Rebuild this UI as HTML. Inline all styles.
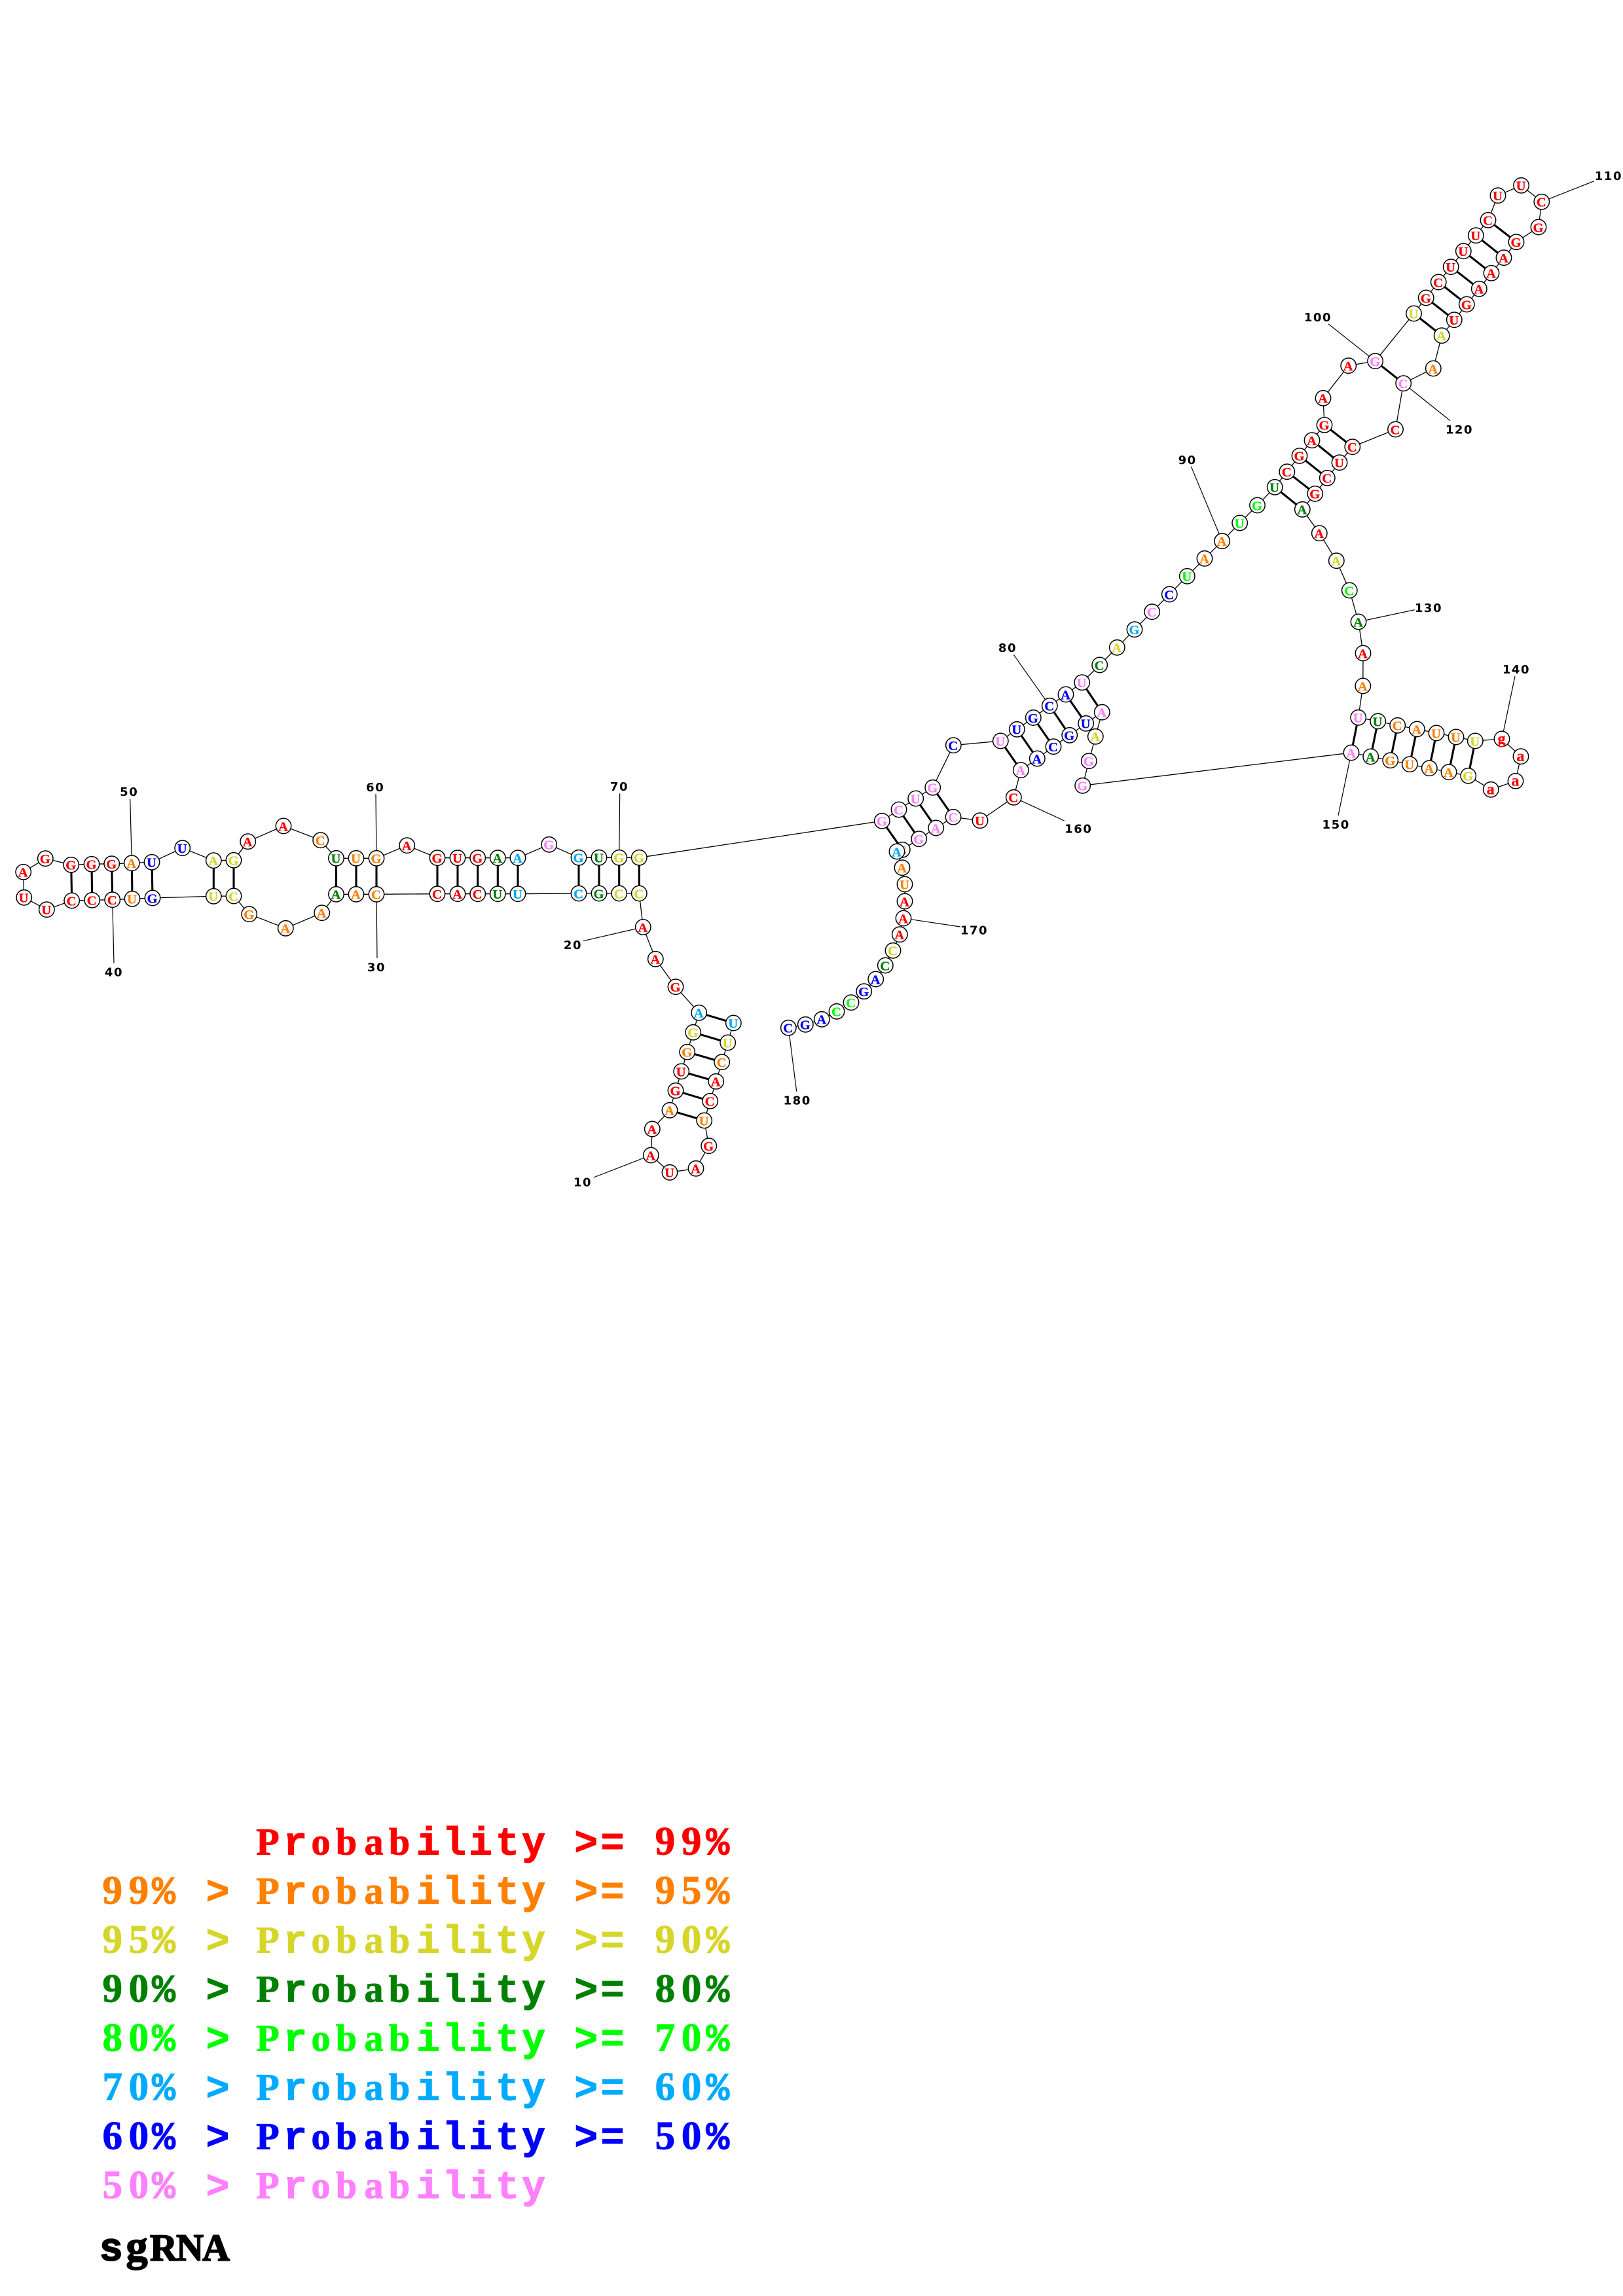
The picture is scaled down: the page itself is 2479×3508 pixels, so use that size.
<!DOCTYPE html>
<html><head><meta charset="utf-8"><title>sgRNA</title>
<style>
html,body{margin:0;padding:0;background:#fff}
svg{display:block}
.bb{fill:none;stroke:#000;stroke-width:1.3}
.bp{stroke:#000;stroke-width:3.1}
.ll{stroke:#000;stroke-width:1.2}
circle{fill:#fff;stroke:#000;stroke-width:1.5}
text{font-family:"Liberation Serif",serif;font-weight:bold}
.n text{font-size:20.5px;text-anchor:middle;stroke-width:.35;transform:translate(-.5px,7.3px)}
.n text.lc{font-size:24px}
.num{font-family:"DejaVu Sans",sans-serif;font-size:18px;text-anchor:middle;letter-spacing:1.6px;fill:#000}
.leg text{font-size:58px;text-anchor:middle;white-space:pre;stroke-width:1}
.leg .m{font-family:"Liberation Mono",monospace;font-size:60px}
.leg .g{font-size:61px}
.r{fill:#ff0000;stroke:#ff0000}.o{fill:#ff8000;stroke:#ff8000}.y{fill:#d6d62a;stroke:#d6d62a}.d{fill:#008000;stroke:#008000}.l{fill:#00ff00;stroke:#00ff00}.a{fill:#00aaff;stroke:#00aaff}.b{fill:#0000ff;stroke:#0000ff}.p{fill:#ff80ff;stroke:#ff80ff}
.k{fill:#000;stroke:#000}
</style></head><body>
<svg xmlns="http://www.w3.org/2000/svg" width="2479" height="3508" viewBox="0 0 2479 3508">
<rect width="2479" height="3508" fill="#fff"/>
<polyline class="bb" points="1120.3,1563 1111.7,1593 1102.7,1622.7 1093.7,1652.3 1084.7,1682.3 1075.7,1712 1082.7,1750.7 1063,1785.3 1023,1791.3 994.3,1765 996.3,1725 1023,1696.3 1032,1666.3 1040.7,1637 1049.7,1607.3 1058.7,1577.3 1067.7,1547.3 1032,1507.7 1001.3,1465.3 982.3,1416.5 976.3,1365 945.7,1365 915,1365 884,1365 791,1365.7 760.3,1365.7 729.7,1365.7 699,1365.7 668,1365.7 575,1366.3 544,1366.3 513.5,1366.3 491.7,1394.7 436.3,1418.3 380.7,1396.7 357,1369 326.3,1369.3 233,1372 202,1373.3 171.7,1374.7 140.7,1375.3 109.7,1376 71.3,1389.7 36.7,1371.3 35.7,1332.3 69.3,1311.7 108.7,1321.3 140,1320.3 170.7,1319.7 201.3,1318.7 232,1317.3 278.7,1295.7 326.3,1314.7 357,1314.3 378.7,1285.7 433,1262 489.7,1283.7 513.5,1311.3 544,1311.3 575,1311.3 621.7,1291.7 668,1310.7 699,1310.7 729.7,1310.7 760.3,1310.7 791,1310.7 838.7,1290.3 884,1310.3 915,1310.3 945.7,1310.3 976.3,1310.3 1347.3,1254.3 1373,1237 1398.7,1220 1424.7,1203.3 1456.3,1138.7 1528.3,1132 1553.3,1114.3 1578.3,1096.5 1603.3,1078.3 1628,1061 1652.7,1042.7 1679.7,1016 1706.3,989.3 1733,961.7 1759.7,934.7 1786.3,908 1813.3,880.3 1840,853.3 1866.7,826.7 1893.7,799 1920.5,772 1947.2,744.3 1965.8,720.7 1985,696.4 2004,672.7 2023,649.3 2021,608.3 2059.7,558.7 2100.6,551.7 2159.5,479 2178.2,455 2197.2,431 2216.2,407.7 2235.3,383.7 2254.3,359.7 2273,336.3 2288,298.7 2323.6,283.3 2354.8,308.3 2350,347 2316,369.7 2297,393.7 2278,417.3 2259.3,441.3 2240.3,465 2221.3,488.7 2202.2,512.7 2189.3,563 2143.7,585.7 2131.5,656 2065.8,682.7 2046,706.7 2027.3,730.3 2008.7,754.3 1989.3,778.3 2015.3,814.7 2041.3,856.7 2061.3,902 2075,950 2082,998 2081.8,1048 2074.7,1096.3 2104.7,1102 2134.7,1108.3 2164.3,1114 2194,1120 2224,1126 2253.3,1132 2294,1129 2323,1155.7 2315,1193.3 2277.3,1206.3 2242.7,1185.3 2213,1179.7 2183.3,1173.7 2153.3,1167.7 2123.7,1161.7 2093.7,1156 2064,1150 1653.7,1200.3 1663.3,1162.7 1673.3,1125.3 1683.3,1088.2 1658.7,1105.3 1633.7,1123.3 1609,1140.7 1584.3,1159 1559.3,1176.7 1548.3,1218.3 1497,1253.7 1456,1248.3 1429.7,1265 1403.7,1281.7 1378.3,1298.3 1370,1301 1378,1325.7 1382,1351 1382,1377 1380,1403 1374.3,1427.7 1364,1452.3 1352.3,1475 1337.7,1496 1319.7,1514.7 1300,1531.7 1278,1545.3 1255.3,1557.3 1230.3,1565.3 1204.3,1570.3"/>
<g class="bp">
<line x1="1120.3" y1="1563" x2="1067.7" y2="1547.3"/><line x1="1111.7" y1="1593" x2="1058.7" y2="1577.3"/><line x1="1102.7" y1="1622.7" x2="1049.7" y2="1607.3"/><line x1="1093.7" y1="1652.3" x2="1040.7" y2="1637"/><line x1="1084.7" y1="1682.3" x2="1032" y2="1666.3"/><line x1="1075.7" y1="1712" x2="1023" y2="1696.3"/>
<line x1="976.3" y1="1365" x2="976.3" y2="1310.3"/><line x1="945.7" y1="1365" x2="945.7" y2="1310.3"/><line x1="915" y1="1365" x2="915" y2="1310.3"/><line x1="884" y1="1365" x2="884" y2="1310.3"/>
<line x1="791" y1="1365.7" x2="791" y2="1310.7"/><line x1="760.3" y1="1365.7" x2="760.3" y2="1310.7"/><line x1="729.7" y1="1365.7" x2="729.7" y2="1310.7"/><line x1="699" y1="1365.7" x2="699" y2="1310.7"/><line x1="668" y1="1365.7" x2="668" y2="1310.7"/>
<line x1="575" y1="1366.3" x2="575" y2="1311.3"/><line x1="544" y1="1366.3" x2="544" y2="1311.3"/><line x1="513.5" y1="1366.3" x2="513.5" y2="1311.3"/>
<line x1="357" y1="1369" x2="357" y2="1314.3"/><line x1="326.3" y1="1369.3" x2="326.3" y2="1314.7"/>
<line x1="233" y1="1372" x2="232" y2="1317.3"/><line x1="202" y1="1373.3" x2="201.3" y2="1318.7"/><line x1="171.7" y1="1374.7" x2="170.7" y2="1319.7"/><line x1="140.7" y1="1375.3" x2="140" y2="1320.3"/><line x1="109.7" y1="1376" x2="108.7" y2="1321.3"/>
<line x1="1347.3" y1="1254.3" x2="1378.3" y2="1298.3"/><line x1="1373" y1="1237" x2="1403.7" y2="1281.7"/><line x1="1398.7" y1="1220" x2="1429.7" y2="1265"/><line x1="1424.7" y1="1203.3" x2="1456" y2="1248.3"/>
<line x1="1528.3" y1="1132" x2="1559.3" y2="1176.7"/><line x1="1553.3" y1="1114.3" x2="1584.3" y2="1159"/><line x1="1578.3" y1="1096.5" x2="1609" y2="1140.7"/><line x1="1603.3" y1="1078.3" x2="1633.7" y2="1123.3"/><line x1="1628" y1="1061" x2="1658.7" y2="1105.3"/><line x1="1652.7" y1="1042.7" x2="1683.3" y2="1088.2"/>
<line x1="1947.2" y1="744.3" x2="1989.3" y2="778.3"/><line x1="1965.8" y1="720.7" x2="2008.7" y2="754.3"/><line x1="1985" y1="696.4" x2="2027.3" y2="730.3"/><line x1="2004" y1="672.7" x2="2046" y2="706.7"/><line x1="2023" y1="649.3" x2="2065.8" y2="682.7"/>
<line x1="2100.6" y1="551.7" x2="2143.7" y2="585.7"/>
<line x1="2159.5" y1="479" x2="2202.2" y2="512.7"/><line x1="2178.2" y1="455" x2="2221.3" y2="488.7"/><line x1="2197.2" y1="431" x2="2240.3" y2="465"/><line x1="2216.2" y1="407.7" x2="2259.3" y2="441.3"/><line x1="2235.3" y1="383.7" x2="2278" y2="417.3"/><line x1="2254.3" y1="359.7" x2="2297" y2="393.7"/><line x1="2273" y1="336.3" x2="2316" y2="369.7"/>
<line x1="2074.7" y1="1096.3" x2="2064" y2="1150"/><line x1="2104.7" y1="1102" x2="2093.7" y2="1156"/><line x1="2134.7" y1="1108.3" x2="2123.7" y2="1161.7"/><line x1="2164.3" y1="1114" x2="2153.3" y2="1167.7"/><line x1="2194" y1="1120" x2="2183.3" y2="1173.7"/><line x1="2224" y1="1126" x2="2213" y2="1179.7"/><line x1="2253.3" y1="1132" x2="2242.7" y2="1185.3"/>
</g>
<g class="ll">
<line x1="994.3" y1="1765" x2="906.7" y2="1799"/><line x1="982.3" y1="1416.5" x2="890.7" y2="1437.7"/><line x1="575" y1="1366.3" x2="576" y2="1464"/><line x1="171.7" y1="1374.7" x2="174" y2="1471.7"/><line x1="201.3" y1="1318.7" x2="198.7" y2="1220.7"/><line x1="575" y1="1311.3" x2="574" y2="1213.3"/><line x1="945.7" y1="1310.3" x2="946.7" y2="1212.3"/><line x1="1603.3" y1="1078.3" x2="1548.3" y2="1000.3"/><line x1="1866.7" y1="826.7" x2="1819.3" y2="712.7"/><line x1="2100.6" y1="551.7" x2="2029" y2="495"/><line x1="2354.8" y1="308.3" x2="2434.8" y2="276.7"/><line x1="2143.7" y1="585.7" x2="2215" y2="642.7"/><line x1="2075" y1="950" x2="2160.7" y2="931.7"/><line x1="2294" y1="1129" x2="2314" y2="1033.3"/><line x1="2064" y1="1150" x2="2044" y2="1246"/><line x1="1548.3" y1="1218.3" x2="1625.7" y2="1254"/><line x1="1380" y1="1403" x2="1466.7" y2="1416"/><line x1="1204.3" y1="1570.3" x2="1216.7" y2="1667.7"/>
</g>
<g class="n">
<circle cx="1120.3" cy="1563" r="11.7"/><text x="1120.3" y="1563" class="a">U</text>
<circle cx="1111.7" cy="1593" r="11.7"/><text x="1111.7" y="1593" class="y">U</text>
<circle cx="1102.7" cy="1622.7" r="11.7"/><text x="1102.7" y="1622.7" class="o">C</text>
<circle cx="1093.7" cy="1652.3" r="11.7"/><text x="1093.7" y="1652.3" class="r">A</text>
<circle cx="1084.7" cy="1682.3" r="11.7"/><text x="1084.7" y="1682.3" class="r">C</text>
<circle cx="1075.7" cy="1712" r="11.7"/><text x="1075.7" y="1712" class="o">U</text>
<circle cx="1082.7" cy="1750.7" r="11.7"/><text x="1082.7" y="1750.7" class="r">G</text>
<circle cx="1063" cy="1785.3" r="11.7"/><text x="1063" y="1785.3" class="r">A</text>
<circle cx="1023" cy="1791.3" r="11.7"/><text x="1023" y="1791.3" class="r">U</text>
<circle cx="994.3" cy="1765" r="11.7"/><text x="994.3" y="1765" class="r">A</text>
<circle cx="996.3" cy="1725" r="11.7"/><text x="996.3" y="1725" class="r">A</text>
<circle cx="1023" cy="1696.3" r="11.7"/><text x="1023" y="1696.3" class="o">A</text>
<circle cx="1032" cy="1666.3" r="11.7"/><text x="1032" y="1666.3" class="r">G</text>
<circle cx="1040.7" cy="1637" r="11.7"/><text x="1040.7" y="1637" class="r">U</text>
<circle cx="1049.7" cy="1607.3" r="11.7"/><text x="1049.7" y="1607.3" class="o">G</text>
<circle cx="1058.7" cy="1577.3" r="11.7"/><text x="1058.7" y="1577.3" class="y">G</text>
<circle cx="1067.7" cy="1547.3" r="11.7"/><text x="1067.7" y="1547.3" class="a">A</text>
<circle cx="1032" cy="1507.7" r="11.7"/><text x="1032" y="1507.7" class="r">G</text>
<circle cx="1001.3" cy="1465.3" r="11.7"/><text x="1001.3" y="1465.3" class="r">A</text>
<circle cx="982.3" cy="1416.5" r="11.7"/><text x="982.3" y="1416.5" class="r">A</text>
<circle cx="976.3" cy="1365" r="11.7"/><text x="976.3" y="1365" class="y">C</text>
<circle cx="945.7" cy="1365" r="11.7"/><text x="945.7" y="1365" class="y">C</text>
<circle cx="915" cy="1365" r="11.7"/><text x="915" y="1365" class="d">G</text>
<circle cx="884" cy="1365" r="11.7"/><text x="884" y="1365" class="a">C</text>
<circle cx="791" cy="1365.7" r="11.7"/><text x="791" y="1365.7" class="a">U</text>
<circle cx="760.3" cy="1365.7" r="11.7"/><text x="760.3" y="1365.7" class="d">U</text>
<circle cx="729.7" cy="1365.7" r="11.7"/><text x="729.7" y="1365.7" class="r">C</text>
<circle cx="699" cy="1365.7" r="11.7"/><text x="699" y="1365.7" class="r">A</text>
<circle cx="668" cy="1365.7" r="11.7"/><text x="668" y="1365.7" class="r">C</text>
<circle cx="575" cy="1366.3" r="11.7"/><text x="575" y="1366.3" class="o">C</text>
<circle cx="544" cy="1366.3" r="11.7"/><text x="544" y="1366.3" class="o">A</text>
<circle cx="513.5" cy="1366.3" r="11.7"/><text x="513.5" y="1366.3" class="d">A</text>
<circle cx="491.7" cy="1394.7" r="11.7"/><text x="491.7" y="1394.7" class="o">A</text>
<circle cx="436.3" cy="1418.3" r="11.7"/><text x="436.3" y="1418.3" class="o">A</text>
<circle cx="380.7" cy="1396.7" r="11.7"/><text x="380.7" y="1396.7" class="o">G</text>
<circle cx="357" cy="1369" r="11.7"/><text x="357" y="1369" class="y">C</text>
<circle cx="326.3" cy="1369.3" r="11.7"/><text x="326.3" y="1369.3" class="y">U</text>
<circle cx="233" cy="1372" r="11.7"/><text x="233" y="1372" class="b">G</text>
<circle cx="202" cy="1373.3" r="11.7"/><text x="202" y="1373.3" class="o">U</text>
<circle cx="171.7" cy="1374.7" r="11.7"/><text x="171.7" y="1374.7" class="r">C</text>
<circle cx="140.7" cy="1375.3" r="11.7"/><text x="140.7" y="1375.3" class="r">C</text>
<circle cx="109.7" cy="1376" r="11.7"/><text x="109.7" y="1376" class="r">C</text>
<circle cx="71.3" cy="1389.7" r="11.7"/><text x="71.3" y="1389.7" class="r">U</text>
<circle cx="36.7" cy="1371.3" r="11.7"/><text x="36.7" y="1371.3" class="r">U</text>
<circle cx="35.7" cy="1332.3" r="11.7"/><text x="35.7" y="1332.3" class="r">A</text>
<circle cx="69.3" cy="1311.7" r="11.7"/><text x="69.3" y="1311.7" class="r">G</text>
<circle cx="108.7" cy="1321.3" r="11.7"/><text x="108.7" y="1321.3" class="r">G</text>
<circle cx="140" cy="1320.3" r="11.7"/><text x="140" y="1320.3" class="r">G</text>
<circle cx="170.7" cy="1319.7" r="11.7"/><text x="170.7" y="1319.7" class="r">G</text>
<circle cx="201.3" cy="1318.7" r="11.7"/><text x="201.3" y="1318.7" class="o">A</text>
<circle cx="232" cy="1317.3" r="11.7"/><text x="232" y="1317.3" class="b">U</text>
<circle cx="278.7" cy="1295.7" r="11.7"/><text x="278.7" y="1295.7" class="b">U</text>
<circle cx="326.3" cy="1314.7" r="11.7"/><text x="326.3" y="1314.7" class="y">A</text>
<circle cx="357" cy="1314.3" r="11.7"/><text x="357" y="1314.3" class="y">G</text>
<circle cx="378.7" cy="1285.7" r="11.7"/><text x="378.7" y="1285.7" class="r">A</text>
<circle cx="433" cy="1262" r="11.7"/><text x="433" y="1262" class="r">A</text>
<circle cx="489.7" cy="1283.7" r="11.7"/><text x="489.7" y="1283.7" class="o">C</text>
<circle cx="513.5" cy="1311.3" r="11.7"/><text x="513.5" y="1311.3" class="d">U</text>
<circle cx="544" cy="1311.3" r="11.7"/><text x="544" y="1311.3" class="o">U</text>
<circle cx="575" cy="1311.3" r="11.7"/><text x="575" y="1311.3" class="o">G</text>
<circle cx="621.7" cy="1291.7" r="11.7"/><text x="621.7" y="1291.7" class="r">A</text>
<circle cx="668" cy="1310.7" r="11.7"/><text x="668" y="1310.7" class="r">G</text>
<circle cx="699" cy="1310.7" r="11.7"/><text x="699" y="1310.7" class="r">U</text>
<circle cx="729.7" cy="1310.7" r="11.7"/><text x="729.7" y="1310.7" class="r">G</text>
<circle cx="760.3" cy="1310.7" r="11.7"/><text x="760.3" y="1310.7" class="d">A</text>
<circle cx="791" cy="1310.7" r="11.7"/><text x="791" y="1310.7" class="a">A</text>
<circle cx="838.7" cy="1290.3" r="11.7"/><text x="838.7" y="1290.3" class="p">G</text>
<circle cx="884" cy="1310.3" r="11.7"/><text x="884" y="1310.3" class="a">G</text>
<circle cx="915" cy="1310.3" r="11.7"/><text x="915" y="1310.3" class="d">U</text>
<circle cx="945.7" cy="1310.3" r="11.7"/><text x="945.7" y="1310.3" class="y">G</text>
<circle cx="976.3" cy="1310.3" r="11.7"/><text x="976.3" y="1310.3" class="y">G</text>
<circle cx="1347.3" cy="1254.3" r="11.7"/><text x="1347.3" y="1254.3" class="p">G</text>
<circle cx="1373" cy="1237" r="11.7"/><text x="1373" y="1237" class="p">C</text>
<circle cx="1398.7" cy="1220" r="11.7"/><text x="1398.7" y="1220" class="p">U</text>
<circle cx="1424.7" cy="1203.3" r="11.7"/><text x="1424.7" y="1203.3" class="p">G</text>
<circle cx="1456.3" cy="1138.7" r="11.7"/><text x="1456.3" y="1138.7" class="b">C</text>
<circle cx="1528.3" cy="1132" r="11.7"/><text x="1528.3" y="1132" class="p">U</text>
<circle cx="1553.3" cy="1114.3" r="11.7"/><text x="1553.3" y="1114.3" class="b">U</text>
<circle cx="1578.3" cy="1096.5" r="11.7"/><text x="1578.3" y="1096.5" class="b">G</text>
<circle cx="1603.3" cy="1078.3" r="11.7"/><text x="1603.3" y="1078.3" class="b">C</text>
<circle cx="1628" cy="1061" r="11.7"/><text x="1628" y="1061" class="b">A</text>
<circle cx="1652.7" cy="1042.7" r="11.7"/><text x="1652.7" y="1042.7" class="p">U</text>
<circle cx="1679.7" cy="1016" r="11.7"/><text x="1679.7" y="1016" class="d">C</text>
<circle cx="1706.3" cy="989.3" r="11.7"/><text x="1706.3" y="989.3" class="y">A</text>
<circle cx="1733" cy="961.7" r="11.7"/><text x="1733" y="961.7" class="a">G</text>
<circle cx="1759.7" cy="934.7" r="11.7"/><text x="1759.7" y="934.7" class="p">C</text>
<circle cx="1786.3" cy="908" r="11.7"/><text x="1786.3" y="908" class="b">C</text>
<circle cx="1813.3" cy="880.3" r="11.7"/><text x="1813.3" y="880.3" class="l">U</text>
<circle cx="1840" cy="853.3" r="11.7"/><text x="1840" y="853.3" class="o">A</text>
<circle cx="1866.7" cy="826.7" r="11.7"/><text x="1866.7" y="826.7" class="o">A</text>
<circle cx="1893.7" cy="799" r="11.7"/><text x="1893.7" y="799" class="l">U</text>
<circle cx="1920.5" cy="772" r="11.7"/><text x="1920.5" y="772" class="l">G</text>
<circle cx="1947.2" cy="744.3" r="11.7"/><text x="1947.2" y="744.3" class="d">U</text>
<circle cx="1965.8" cy="720.7" r="11.7"/><text x="1965.8" y="720.7" class="r">C</text>
<circle cx="1985" cy="696.4" r="11.7"/><text x="1985" y="696.4" class="r">G</text>
<circle cx="2004" cy="672.7" r="11.7"/><text x="2004" y="672.7" class="r">A</text>
<circle cx="2023" cy="649.3" r="11.7"/><text x="2023" y="649.3" class="r">G</text>
<circle cx="2021" cy="608.3" r="11.7"/><text x="2021" y="608.3" class="r">A</text>
<circle cx="2059.7" cy="558.7" r="11.7"/><text x="2059.7" y="558.7" class="r">A</text>
<circle cx="2100.6" cy="551.7" r="11.7"/><text x="2100.6" y="551.7" class="p">G</text>
<circle cx="2159.5" cy="479" r="11.7"/><text x="2159.5" y="479" class="y">U</text>
<circle cx="2178.2" cy="455" r="11.7"/><text x="2178.2" y="455" class="r">G</text>
<circle cx="2197.2" cy="431" r="11.7"/><text x="2197.2" y="431" class="r">C</text>
<circle cx="2216.2" cy="407.7" r="11.7"/><text x="2216.2" y="407.7" class="r">U</text>
<circle cx="2235.3" cy="383.7" r="11.7"/><text x="2235.3" y="383.7" class="r">U</text>
<circle cx="2254.3" cy="359.7" r="11.7"/><text x="2254.3" y="359.7" class="r">U</text>
<circle cx="2273" cy="336.3" r="11.7"/><text x="2273" y="336.3" class="r">C</text>
<circle cx="2288" cy="298.7" r="11.7"/><text x="2288" y="298.7" class="r">U</text>
<circle cx="2323.6" cy="283.3" r="11.7"/><text x="2323.6" y="283.3" class="r">U</text>
<circle cx="2354.8" cy="308.3" r="11.7"/><text x="2354.8" y="308.3" class="r">C</text>
<circle cx="2350" cy="347" r="11.7"/><text x="2350" y="347" class="r">G</text>
<circle cx="2316" cy="369.7" r="11.7"/><text x="2316" y="369.7" class="r">G</text>
<circle cx="2297" cy="393.7" r="11.7"/><text x="2297" y="393.7" class="r">A</text>
<circle cx="2278" cy="417.3" r="11.7"/><text x="2278" y="417.3" class="r">A</text>
<circle cx="2259.3" cy="441.3" r="11.7"/><text x="2259.3" y="441.3" class="r">A</text>
<circle cx="2240.3" cy="465" r="11.7"/><text x="2240.3" y="465" class="r">G</text>
<circle cx="2221.3" cy="488.7" r="11.7"/><text x="2221.3" y="488.7" class="r">U</text>
<circle cx="2202.2" cy="512.7" r="11.7"/><text x="2202.2" y="512.7" class="y">A</text>
<circle cx="2189.3" cy="563" r="11.7"/><text x="2189.3" y="563" class="o">A</text>
<circle cx="2143.7" cy="585.7" r="11.7"/><text x="2143.7" y="585.7" class="p">C</text>
<circle cx="2131.5" cy="656" r="11.7"/><text x="2131.5" y="656" class="r">C</text>
<circle cx="2065.8" cy="682.7" r="11.7"/><text x="2065.8" y="682.7" class="r">C</text>
<circle cx="2046" cy="706.7" r="11.7"/><text x="2046" y="706.7" class="r">U</text>
<circle cx="2027.3" cy="730.3" r="11.7"/><text x="2027.3" y="730.3" class="r">C</text>
<circle cx="2008.7" cy="754.3" r="11.7"/><text x="2008.7" y="754.3" class="r">G</text>
<circle cx="1989.3" cy="778.3" r="11.7"/><text x="1989.3" y="778.3" class="d">A</text>
<circle cx="2015.3" cy="814.7" r="11.7"/><text x="2015.3" y="814.7" class="r">A</text>
<circle cx="2041.3" cy="856.7" r="11.7"/><text x="2041.3" y="856.7" class="y">A</text>
<circle cx="2061.3" cy="902" r="11.7"/><text x="2061.3" y="902" class="l">C</text>
<circle cx="2075" cy="950" r="11.7"/><text x="2075" y="950" class="d">A</text>
<circle cx="2082" cy="998" r="11.7"/><text x="2082" y="998" class="r">A</text>
<circle cx="2081.8" cy="1048" r="11.7"/><text x="2081.8" y="1048" class="o">A</text>
<circle cx="2074.7" cy="1096.3" r="11.7"/><text x="2074.7" y="1096.3" class="p">U</text>
<circle cx="2104.7" cy="1102" r="11.7"/><text x="2104.7" y="1102" class="d">U</text>
<circle cx="2134.7" cy="1108.3" r="11.7"/><text x="2134.7" y="1108.3" class="o">C</text>
<circle cx="2164.3" cy="1114" r="11.7"/><text x="2164.3" y="1114" class="o">A</text>
<circle cx="2194" cy="1120" r="11.7"/><text x="2194" y="1120" class="o">U</text>
<circle cx="2224" cy="1126" r="11.7"/><text x="2224" y="1126" class="o">U</text>
<circle cx="2253.3" cy="1132" r="11.7"/><text x="2253.3" y="1132" class="y">U</text>
<circle cx="2294" cy="1129" r="11.7"/><text x="2294" y="1129" class="r lc">g</text>
<circle cx="2323" cy="1155.7" r="11.7"/><text x="2323" y="1155.7" class="r lc">a</text>
<circle cx="2315" cy="1193.3" r="11.7"/><text x="2315" y="1193.3" class="r lc">a</text>
<circle cx="2277.3" cy="1206.3" r="11.7"/><text x="2277.3" y="1206.3" class="r lc">a</text>
<circle cx="2242.7" cy="1185.3" r="11.7"/><text x="2242.7" y="1185.3" class="y">G</text>
<circle cx="2213" cy="1179.7" r="11.7"/><text x="2213" y="1179.7" class="o">A</text>
<circle cx="2183.3" cy="1173.7" r="11.7"/><text x="2183.3" y="1173.7" class="o">A</text>
<circle cx="2153.3" cy="1167.7" r="11.7"/><text x="2153.3" y="1167.7" class="o">U</text>
<circle cx="2123.7" cy="1161.7" r="11.7"/><text x="2123.7" y="1161.7" class="o">G</text>
<circle cx="2093.7" cy="1156" r="11.7"/><text x="2093.7" y="1156" class="d">A</text>
<circle cx="2064" cy="1150" r="11.7"/><text x="2064" y="1150" class="p">A</text>
<circle cx="1653.7" cy="1200.3" r="11.7"/><text x="1653.7" y="1200.3" class="p">G</text>
<circle cx="1663.3" cy="1162.7" r="11.7"/><text x="1663.3" y="1162.7" class="p">G</text>
<circle cx="1683.3" cy="1088.2" r="11.7"/><text x="1683.3" y="1088.2" class="p">A</text>
<circle cx="1673.3" cy="1125.3" r="11.7"/><text x="1673.3" y="1125.3" class="y">A</text>
<circle cx="1658.7" cy="1105.3" r="11.7"/><text x="1658.7" y="1105.3" class="b">U</text>
<circle cx="1633.7" cy="1123.3" r="11.7"/><text x="1633.7" y="1123.3" class="b">G</text>
<circle cx="1609" cy="1140.7" r="11.7"/><text x="1609" y="1140.7" class="b">C</text>
<circle cx="1584.3" cy="1159" r="11.7"/><text x="1584.3" y="1159" class="b">A</text>
<circle cx="1559.3" cy="1176.7" r="11.7"/><text x="1559.3" y="1176.7" class="p">A</text>
<circle cx="1548.3" cy="1218.3" r="11.7"/><text x="1548.3" y="1218.3" class="r">C</text>
<circle cx="1497" cy="1253.7" r="11.7"/><text x="1497" y="1253.7" class="r">U</text>
<circle cx="1456" cy="1248.3" r="11.7"/><text x="1456" y="1248.3" class="p">C</text>
<circle cx="1429.7" cy="1265" r="11.7"/><text x="1429.7" y="1265" class="p">A</text>
<circle cx="1403.7" cy="1281.7" r="11.7"/><text x="1403.7" y="1281.7" class="p">G</text>
<circle cx="1378.3" cy="1298.3" r="11.7"/><text x="1378.3" y="1298.3" class="p">C</text>
<circle cx="1370" cy="1301" r="11.7"/><text x="1370" y="1301" class="a">A</text>
<circle cx="1378" cy="1325.7" r="11.7"/><text x="1378" y="1325.7" class="o">A</text>
<circle cx="1382" cy="1351" r="11.7"/><text x="1382" y="1351" class="o">U</text>
<circle cx="1382" cy="1377" r="11.7"/><text x="1382" y="1377" class="r">A</text>
<circle cx="1380" cy="1403" r="11.7"/><text x="1380" y="1403" class="r">A</text>
<circle cx="1374.3" cy="1427.7" r="11.7"/><text x="1374.3" y="1427.7" class="r">A</text>
<circle cx="1364" cy="1452.3" r="11.7"/><text x="1364" y="1452.3" class="y">C</text>
<circle cx="1352.3" cy="1475" r="11.7"/><text x="1352.3" y="1475" class="d">C</text>
<circle cx="1337.7" cy="1496" r="11.7"/><text x="1337.7" y="1496" class="b">A</text>
<circle cx="1319.7" cy="1514.7" r="11.7"/><text x="1319.7" y="1514.7" class="b">G</text>
<circle cx="1300" cy="1531.7" r="11.7"/><text x="1300" y="1531.7" class="l">C</text>
<circle cx="1278" cy="1545.3" r="11.7"/><text x="1278" y="1545.3" class="l">C</text>
<circle cx="1255.3" cy="1557.3" r="11.7"/><text x="1255.3" y="1557.3" class="b">A</text>
<circle cx="1230.3" cy="1565.3" r="11.7"/><text x="1230.3" y="1565.3" class="b">G</text>
<circle cx="1204.3" cy="1570.3" r="11.7"/><text x="1204.3" y="1570.3" class="b">C</text>
</g>
<g>
<text class="num" x="890" y="1812.7">10</text>
<text class="num" x="875" y="1450">20</text>
<text class="num" x="575" y="1484">30</text>
<text class="num" x="174" y="1491.7">40</text>
<text class="num" x="197.3" y="1216">50</text>
<text class="num" x="573.3" y="1209">60</text>
<text class="num" x="946" y="1208">70</text>
<text class="num" x="1539" y="996">80</text>
<text class="num" x="1813.7" y="709">90</text>
<text class="num" x="2013" y="491">100</text>
<text class="num" x="2457" y="275">110</text>
<text class="num" x="2229" y="662.7">120</text>
<text class="num" x="2182" y="935">130</text>
<text class="num" x="2316" y="1029">140</text>
<text class="num" x="2040.7" y="1266">150</text>
<text class="num" x="1647.3" y="1272.7">160</text>
<text class="num" x="1488" y="1427.7">170</text>
<text class="num" x="1217.7" y="1687.7">180</text>
</g>
<g class="leg">
<text y="2833.3" class="r"><tspan x="409">P</tspan><tspan class="m" x="451">r</tspan><tspan x="490 529 571 610">obab</tspan><tspan class="m" x="654 694 734 775 815 855">ility </tspan><tspan class="m" x="895.3 935.5 975.7">&gt;= </tspan><tspan class="g" x="1015.9 1056.1">99</tspan><tspan class="m" x="1096.3">%</tspan></text>
<text y="2908.3" class="o"><tspan class="g" x="171.7 211.9">99</tspan><tspan class="m" x="250 292.3 332.5 372.7">% &gt; </tspan><tspan x="409">P</tspan><tspan class="m" x="451">r</tspan><tspan x="490 529 571 610">obab</tspan><tspan class="m" x="654 694 734 775 815 855">ility </tspan><tspan class="m" x="895.3 935.5 975.7">&gt;= </tspan><tspan class="g" x="1015.9 1056.1">95</tspan><tspan class="m" x="1096.3">%</tspan></text>
<text y="2983.3" class="y"><tspan class="g" x="171.7 211.9">95</tspan><tspan class="m" x="250 292.3 332.5 372.7">% &gt; </tspan><tspan x="409">P</tspan><tspan class="m" x="451">r</tspan><tspan x="490 529 571 610">obab</tspan><tspan class="m" x="654 694 734 775 815 855">ility </tspan><tspan class="m" x="895.3 935.5 975.7">&gt;= </tspan><tspan class="g" x="1015.9 1056.1">90</tspan><tspan class="m" x="1096.3">%</tspan></text>
<text y="3058.3" class="d"><tspan class="g" x="171.7 211.9">90</tspan><tspan class="m" x="250 292.3 332.5 372.7">% &gt; </tspan><tspan x="409">P</tspan><tspan class="m" x="451">r</tspan><tspan x="490 529 571 610">obab</tspan><tspan class="m" x="654 694 734 775 815 855">ility </tspan><tspan class="m" x="895.3 935.5 975.7">&gt;= </tspan><tspan class="g" x="1015.9 1056.1">80</tspan><tspan class="m" x="1096.3">%</tspan></text>
<text y="3133.3" class="l"><tspan class="g" x="171.7 211.9">80</tspan><tspan class="m" x="250 292.3 332.5 372.7">% &gt; </tspan><tspan x="409">P</tspan><tspan class="m" x="451">r</tspan><tspan x="490 529 571 610">obab</tspan><tspan class="m" x="654 694 734 775 815 855">ility </tspan><tspan class="m" x="895.3 935.5 975.7">&gt;= </tspan><tspan class="g" x="1015.9 1056.1">70</tspan><tspan class="m" x="1096.3">%</tspan></text>
<text y="3208.3" class="a"><tspan class="g" x="171.7 211.9">70</tspan><tspan class="m" x="250 292.3 332.5 372.7">% &gt; </tspan><tspan x="409">P</tspan><tspan class="m" x="451">r</tspan><tspan x="490 529 571 610">obab</tspan><tspan class="m" x="654 694 734 775 815 855">ility </tspan><tspan class="m" x="895.3 935.5 975.7">&gt;= </tspan><tspan class="g" x="1015.9 1056.1">60</tspan><tspan class="m" x="1096.3">%</tspan></text>
<text y="3283.3" class="b"><tspan class="g" x="171.7 211.9">60</tspan><tspan class="m" x="250 292.3 332.5 372.7">% &gt; </tspan><tspan x="409">P</tspan><tspan class="m" x="451">r</tspan><tspan x="490 529 571 610">obab</tspan><tspan class="m" x="654 694 734 775 815 855">ility </tspan><tspan class="m" x="895.3 935.5 975.7">&gt;= </tspan><tspan class="g" x="1015.9 1056.1">50</tspan><tspan class="m" x="1096.3">%</tspan></text>
<text y="3358.3" class="p"><tspan class="g" x="171.7 211.9">50</tspan><tspan class="m" x="250 292.3 332.5 372.7">% &gt; </tspan><tspan x="409">P</tspan><tspan class="m" x="451">r</tspan><tspan x="490 529 571 610">obab</tspan><tspan class="m" x="654 694 734 775 815">ility</tspan></text>
<text y="3453.3" class="k" style="stroke-width:1.8"><tspan class="m" x="169.7">s</tspan><tspan style="font-size:66px" x="209">g</tspan><tspan x="250 290 330">RNA</tspan></text>
</g>
</svg>
</body></html>
